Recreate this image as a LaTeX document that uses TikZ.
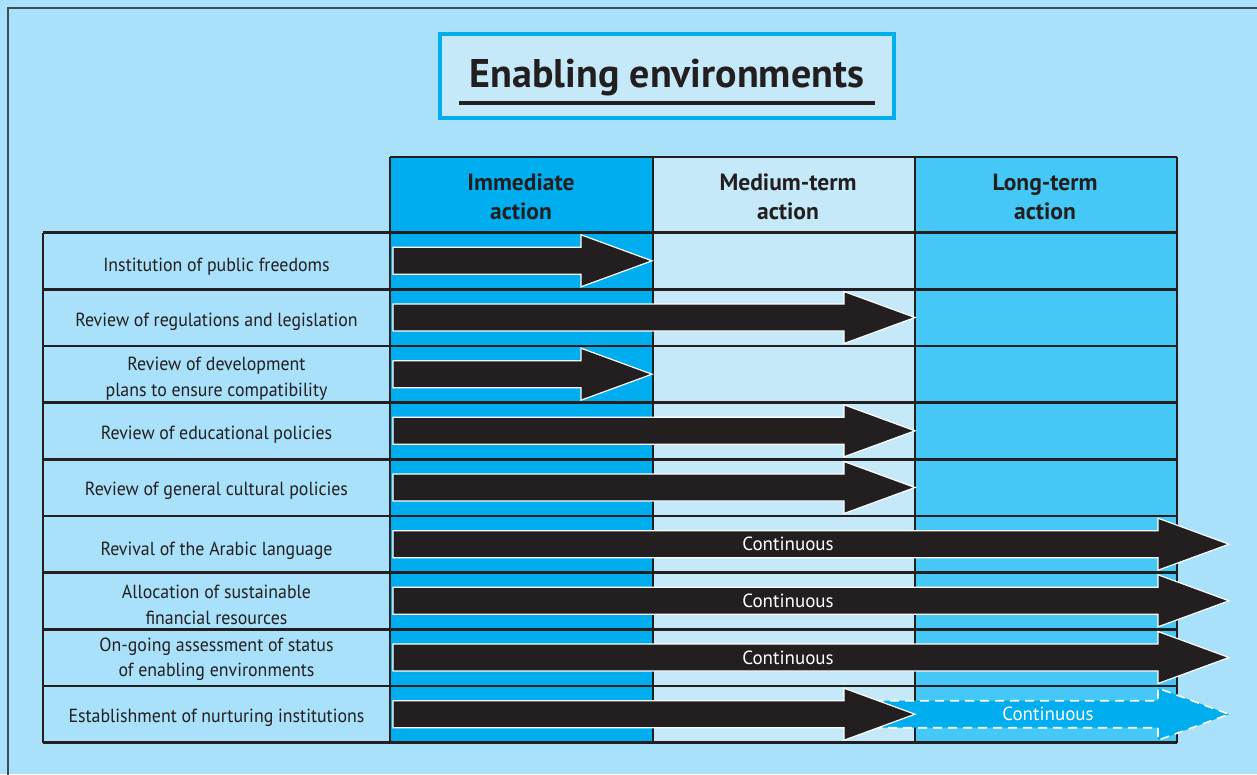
\documentclass[tikz,border=0pt]{standalone}
\usepackage{tikz}
\usepackage{fontspec}
\setmainfont{PT Sans}
\newfontfamily\narrowsans[FakeStretch=0.94]{PT Sans}
\definecolor{pageblue}{HTML}{A9E1FA}
\definecolor{paleblue}{HTML}{C6E9F9}
\definecolor{nowblue}{HTML}{00AEEF}
\definecolor{longblue}{HTML}{45C8F5}
\definecolor{inkblack}{HTML}{231F20}
\definecolor{framegray}{HTML}{3E4C55}

\begin{document}
\begin{tikzpicture}[x=1pt,y=-1pt,
	label/.style={font=\narrowsans\fontsize{19}{25.5}\selectfont, text=inkblack, align=center},
	head/.style={font=\bfseries\fontsize{23.5}{29}\selectfont, text=inkblack, align=center},
	cont/.style={font=\fontsize{19}{22}\selectfont, text=white},
	grid/.style={draw=inkblack, line width=2.6pt},
	blockarrow/.style={fill=inkblack, draw=white, line width=1.2pt, line join=miter},
	lightarrow/.style={fill=nowblue, draw=white, line width=1.6pt, dash pattern=on 9pt off 6pt}]
	\tikzstyle{every node}+=[inner sep=0pt]
	\useasboundingbox (0,0) rectangle (1257,774);
	\fill [pageblue] (0,0) rectangle (1257,774);
	\draw [framegray, line width=2.2pt] (8,780) -- (8,8) -- (1265,8);

	\draw [nowblue, fill=paleblue, line width=4pt] (440,34) rectangle (894,118);
	\node [font=\bfseries\fontsize{40}{44}\selectfont, text=inkblack] (title) at (667,78) {Enabling environments};
	\draw [inkblack, line width=4pt] (459,103) -- (875,103);

	\fill [nowblue] (390,157) rectangle (653,742.5);
	\fill [paleblue] (653,157) rectangle (915,742.5);
	\fill [longblue] (915,157) rectangle (1177,742.5);
	\draw [grid] (390,157) -- (1177,157);
	\draw [grid] (43,232.5) -- (1177,232.5);
	\draw [grid] (43,289.2) -- (1177,289.2);
	\draw [grid] (43,345.8) -- (1177,345.8);
	\draw [grid] (43,402.5) -- (1177,402.5);
	\draw [grid] (43,459.2) -- (1177,459.2);
	\draw [grid] (43,515.8) -- (1177,515.8);
	\draw [grid] (43,572.5) -- (1177,572.5);
	\draw [grid] (43,629.2) -- (1177,629.2);
	\draw [grid] (43,685.8) -- (1177,685.8);
	\draw [grid] (43,742.5) -- (1177,742.5);
	\draw [grid] (43,232.5) -- (43,742.5);
	\draw [grid] (390,157) -- (390,742.5);
	\draw [grid] (653,157) -- (653,742.5);
	\draw [grid] (915,157) -- (915,742.5);
	\draw [grid] (1177,157) -- (1177,742.5);

	\node [head] (now) at (521,197) {Immediate\\action};
	\node [head] (medium) at (788,197) {Medium-term\\action};
	\node [head] (long) at (1045,197) {Long-term\\action};

	\node [label] (freedoms) at (216.5,266.5) {Institution of public freedoms};
	\node [label] (regulations) at (216.5,322) {Review of regulations and legislation};
	\node [label] (plans) at (216.5,378.5) {Review of development\\plans to ensure compatibility};
	\node [label] (education) at (216.5,435) {Review of educational policies};
	\node [label] (culture) at (216.5,491) {Review of general cultural policies};
	\node [label] (arabic) at (216.5,550.5) {Revival of the Arabic language};
	\node [label] (finance) at (216.5,605) {Allocation of sustainable\\financial resources};
	\node [label] (status) at (216.5,659) {On-going assessment of status\\of enabling environments};
	\node [label] (nurture) at (216.5,718) {Establishment of nurturing institutions};

	\draw [blockarrow] (393,247.3) -- (581,247.3) -- (581,234.8) -- (652,260.8) -- (581,286.8) -- (581,274.3) -- (393,274.3) -- cycle;
	\draw [blockarrow] (393,304) -- (844,304) -- (844,291.5) -- (915,317.5) -- (844,343.5) -- (844,331) -- (393,331) -- cycle;
	\draw [blockarrow] (393,360.7) -- (581,360.7) -- (581,348.2) -- (652,374.2) -- (581,400.2) -- (581,387.7) -- (393,387.7) -- cycle;
	\draw [blockarrow] (393,417.3) -- (844,417.3) -- (844,404.8) -- (915,430.8) -- (844,456.8) -- (844,444.3) -- (393,444.3) -- cycle;
	\draw [blockarrow] (393,474) -- (844,474) -- (844,461.5) -- (915,487.5) -- (844,513.5) -- (844,501) -- (393,501) -- cycle;
	\draw [blockarrow] (393,530.7) -- (1158,530.7) -- (1158,518.2) -- (1229,544.2) -- (1158,570.2) -- (1158,557.7) -- (393,557.7) -- cycle;
	\draw [blockarrow] (393,587.3) -- (1158,587.3) -- (1158,574.8) -- (1229,600.8) -- (1158,626.8) -- (1158,614.3) -- (393,614.3) -- cycle;
	\draw [blockarrow] (393,644) -- (1158,644) -- (1158,631.5) -- (1229,657.5) -- (1158,683.5) -- (1158,671) -- (393,671) -- cycle;
	\draw [lightarrow] (860,700.7) -- (1158,700.7) -- (1158,688.2) -- (1229,714.2) -- (1158,740.2) -- (1158,727.7) -- (860,727.7) -- cycle;
	\draw [blockarrow] (393,700.7) -- (844,700.7) -- (844,688.2) -- (915,714.2) -- (844,740.2) -- (844,727.7) -- (393,727.7) -- cycle;

	\node [cont] (arabiccont) at (788,544.2) {Continuous};
	\node [cont] (financecont) at (788,600.8) {Continuous};
	\node [cont] (statuscont) at (788,657.5) {Continuous};
	\node [cont] (nurturecont) at (1048,714.2) {Continuous};
\end{tikzpicture}
\end{document}
